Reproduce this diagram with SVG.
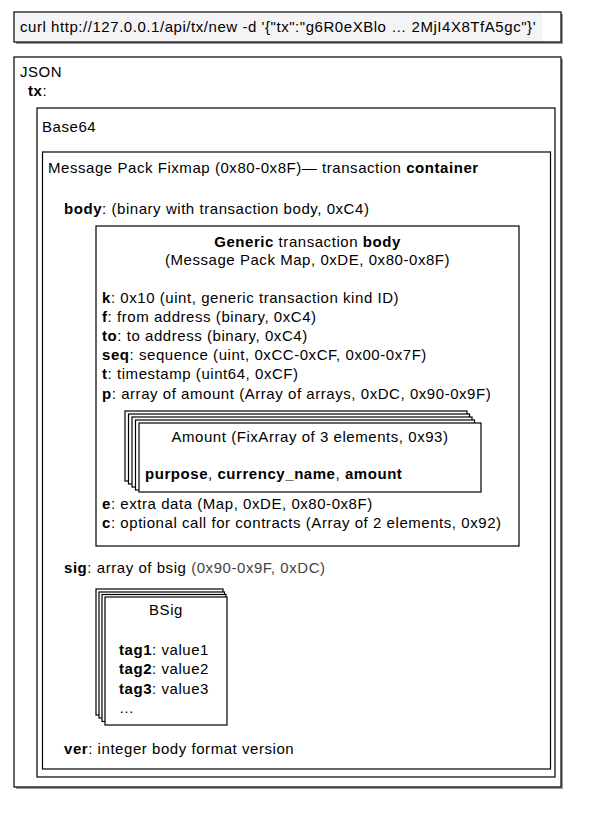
<svg xmlns="http://www.w3.org/2000/svg" width="590" height="814" viewBox="0 0 590 814">
<style>
text{font-family:"Liberation Sans",Arial,Helvetica,sans-serif;font-size:15px;letter-spacing:0.55px;fill:#000}
.b{font-weight:bold}
.c{text-anchor:middle}
.g{fill:#444}
.box{fill:#fff;stroke:#000;stroke-width:1.2}
.sh{fill:#9a9a9a}
</style>
<rect width="590" height="814" fill="#fff"/>
<g id="curl">
<rect class="sh" x="16" y="14" width="547" height="30"/>
<rect class="box" x="14" y="12" width="547" height="30"/>
<rect x="15" y="13" width="527" height="28" fill="#f4f4f6"/>
<text x="20" y="32">curl http://127.0.0.1/api/tx/new -d '{"tx":"g6R0eXBlo … 2MjI4X8TfA5gc"}'</text>
</g>
<g id="json">
<rect class="sh" x="16" y="59" width="547" height="730"/>
<rect class="box" x="14" y="57" width="547" height="730"/>
<text x="20" y="77">JSON</text>
<text x="28" y="96"><tspan class="b">tx</tspan>:</text>
</g>
<g id="base64">
<rect class="box" x="37" y="108" width="518" height="669"/>
<text x="42" y="132">Base64</text>
</g>
<g id="msgpack">
<rect class="box" x="42.5" y="152" width="508" height="617"/>
<text x="48" y="173">Message Pack Fixmap (0x80-0x8F)— transaction <tspan class="b">container</tspan></text>
<text x="64" y="214"><tspan class="b">body</tspan>: (binary with transaction body, 0xC4)</text>
<text x="64" y="573"><tspan class="b">sig</tspan>: array of bsig <tspan class="g">(0x90-0x9F, 0xDC)</tspan></text>
<text x="64" y="754"><tspan class="b">ver</tspan>: integer body format version</text>
</g>
<g id="generic-body">
<rect class="box" x="96" y="226" width="423" height="320"/>
<text class="c" x="307.5" y="247"><tspan class="b">Generic</tspan> transaction <tspan class="b">body</tspan></text>
<text class="c" x="307.5" y="265">(Message Pack Map, 0xDE, 0x80-0x8F)</text>
<text x="102" y="303"><tspan class="b">k</tspan>: 0x10 (uint, generic transaction kind ID)</text>
<text x="102" y="322"><tspan class="b">f</tspan>: from address (binary, 0xC4)</text>
<text x="102" y="341"><tspan class="b">to</tspan>: to address (binary, 0xC4)</text>
<text x="102" y="360"><tspan class="b">seq</tspan>: sequence (uint, 0xCC-0xCF, 0x00-0x7F)</text>
<text x="102" y="379"><tspan class="b">t</tspan>: timestamp (uint64, 0xCF)</text>
<text x="102" y="399"><tspan class="b">p</tspan>: array of amount (Array of arrays, 0xDC, 0x90-0x9F)</text>
<text x="102" y="509"><tspan class="b">e</tspan>: extra data (Map, 0xDE, 0x80-0x8F)</text>
<text x="102" y="528"><tspan class="b">c</tspan>: optional call for contracts (Array of 2 elements, 0x92)</text>
</g>
<g id="amount">
<rect class="box" x="125" y="411" width="342" height="70"/>
<rect class="box" x="128.5" y="414" width="341" height="70"/>
<rect class="box" x="132" y="417" width="340" height="70"/>
<rect class="box" x="135.5" y="420" width="339" height="70"/>
<rect class="box" x="139" y="423" width="342" height="69"/>
<text class="c" x="310" y="442">Amount (FixArray of 3 elements, 0x93)</text>
<text x="145" y="479"><tspan class="b">purpose</tspan>, <tspan class="b">currency_name</tspan>, <tspan class="b">amount</tspan></text>
</g>
<g id="bsig">
<rect class="box" x="96" y="589" width="127" height="126"/>
<rect class="box" x="99" y="592" width="125.5" height="126"/>
<rect class="box" x="102" y="594.5" width="124" height="127"/>
<rect class="box" x="105" y="597" width="122" height="128"/>
<text class="c" x="166" y="615">BSig</text>
<text x="119" y="655"><tspan class="b">tag1</tspan>: value1</text>
<text x="119" y="674"><tspan class="b">tag2</tspan>: value2</text>
<text x="119" y="694"><tspan class="b">tag3</tspan>: value3</text>
<text x="119" y="713">…</text>
</g>
<g id="connectors"/>
</svg>
